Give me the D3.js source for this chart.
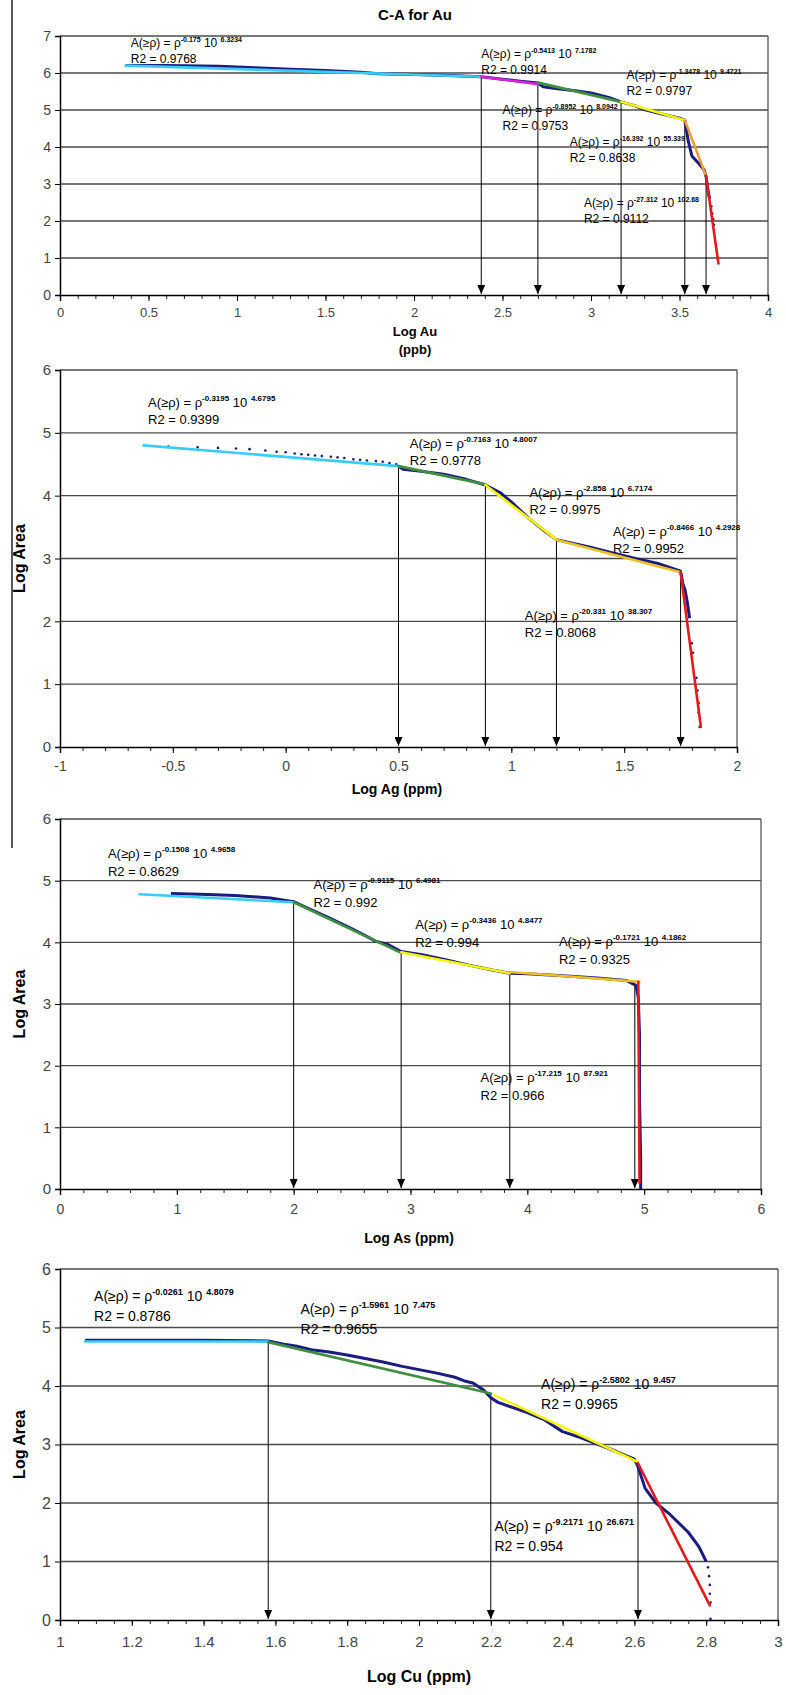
<!DOCTYPE html>
<html>
<head>
<meta charset="utf-8">
<script src="https://cdn.jsdelivr.net/npm/d3@7"></script>
<style>
  body { margin: 0; background: #fff; }
  text { font-family: "Liberation Sans", Arial, sans-serif; }
</style>
</head>
<body>
<svg id="chart" width="786" height="1695"></svg>
<script>
// ---- Au (ppb) ----
var auCurve = [[0.37,6.20],[0.6,6.20],[0.9,6.18],[1.1,6.14],[1.3,6.10],[1.5,6.07],[1.7,6.02],[1.8,5.98],
  [2.0,5.96],[2.2,5.93],[2.38,5.90],[2.5,5.83],[2.6,5.78],[2.7,5.73],[2.73,5.63],[2.8,5.58],[2.9,5.53],
  [3.0,5.46],[3.1,5.34],[3.17,5.22],[3.25,5.11],[3.3,5.01],[3.4,4.89],[3.5,4.78],[3.53,4.72],[3.55,4.15],
  [3.57,3.76],[3.6,3.6],[3.64,3.38],[3.65,3.2],[3.66,2.85],[3.67,2.6]];
var auDots = [[3.68,2.4],[3.685,2.2],[3.69,2.05],[3.695,1.9]];
var auFits = [[0.37,6.20,2.38,5.90],[2.38,5.90,2.70,5.70],[2.70,5.74,3.17,5.22],[3.17,5.22,3.53,4.72],
  [3.53,4.72,3.65,3.22],[3.65,3.22,3.72,0.85]];
var auFitColors = ["#38cdf5","#e020e0","#3f8f3f","#f5f500","#f09a30","#e41a1a"];
var auCuts = [[2.38,5.90],[2.70,5.72],[3.17,5.22],[3.53,4.72],[3.65,3.22]];
var auEq = [["-0.175","6.3234","0.9768"],["-0.5413","7.1782","0.9914"],["-0.8952","8.0942","0.9753"],
  ["-1.3478","9.4721","0.9797"],["-16.392","55.339","0.8638"],["-27.312","102.68","0.9112"]];
var auEqAt = [[0.40,6.70],[2.38,6.41],[2.50,4.89],[3.20,5.84],[2.88,4.03],[2.96,2.38]];
var auXTicks = [0,0.5,1,1.5,2,2.5,3,3.5,4];
var auYTicks = [0,1,2,3,4,5,6,7];

// ---- Ag (ppm) ----
var agCurve = [[0.5,4.47],[0.52,4.42],[0.6,4.39],[0.7,4.34],[0.8,4.26],[0.885,4.17],[0.95,4.05],[1.0,3.9],
  [1.08,3.63],[1.15,3.43],[1.2,3.3],[1.25,3.26],[1.35,3.18],[1.45,3.09],[1.55,3.0],[1.65,2.92],[1.75,2.8],
  [1.76,2.6],[1.77,2.5],[1.78,2.3],[1.79,2.05]];
var agDots = [[-0.52,4.78],[-0.39,4.77],[-0.30,4.76],[-0.22,4.75],[-0.16,4.74],[-0.09,4.72],[-0.04,4.70],
  [0.0,4.69],[0.04,4.67],[0.07,4.66],[0.10,4.65],[0.13,4.64],[0.16,4.63],[0.20,4.62],[0.23,4.61],
  [0.26,4.60],[0.30,4.58],[0.33,4.57],[0.36,4.56],[0.40,4.55],[0.43,4.54],[0.46,4.52],[0.49,4.50],
  [1.80,1.65],[1.805,1.5],[1.82,1.1],[1.825,0.9],[1.83,0.7],[1.83,0.55],[1.835,0.32]];
var agFits = [[-0.63,4.80,0.5,4.47],[0.5,4.47,0.885,4.18],[0.885,4.17,1.2,3.3],[1.2,3.3,1.75,2.78],
  [1.75,2.78,1.84,0.32]];
var agFitColors = ["#38cdf5","#3f8f3f","#f5f500","#f0c020","#e41a1a"];
var agCuts = [[0.5,4.47],[0.885,4.17],[1.2,3.3],[1.75,2.78]];
var agEq = [["-0.3195","4.6795","0.9399"],["-0.7163","4.8007","0.9778"],["-2.858","6.7174","0.9975"],
  ["-0.8466","4.2928","0.9952"],["-20.331","38.307","0.8068"]];
var agEqAt = [[-0.61,5.41],[0.55,4.76],[1.08,3.98],[1.45,3.36],[1.06,2.02]];
var agXTicks = [-1,-0.5,0,0.5,1,1.5,2];
var agYTicks = [0,1,2,3,4,5,6];

// ---- As (ppm) ----
var asCurve = [[0.95,4.79],[1.2,4.78],[1.5,4.76],[1.8,4.72],[2.0,4.66],[2.1,4.57],[2.3,4.40],[2.5,4.22],
  [2.6,4.12],[2.7,4.02],[2.8,3.97],[2.92,3.85],[3.1,3.80],[3.3,3.72],[3.5,3.63],[3.7,3.55],[3.85,3.50],
  [4.0,3.49],[4.3,3.46],[4.6,3.42],[4.85,3.38],[4.93,3.30],[4.95,3.10],[4.96,2.5],[4.96,1.5],
  [4.97,0.5],[4.97,0.0]];
var asDots = [];
var asFits = [[0.68,4.78,2.0,4.65],[2.0,4.65,2.92,3.83],[2.92,3.84,3.85,3.50],[3.85,3.52,4.96,3.36],
  [4.95,3.36,4.96,0.10]];
var asFitColors = ["#38cdf5","#3f8f3f","#f5f500","#f0c020","#e41a1a"];
var asCuts = [[2.0,4.64],[2.92,3.84],[3.85,3.50],[4.92,3.35]];
var asEq = [["-0.1508","4.9658","0.8629"],["-0.9115","6.4981","0.992"],["-0.3436","4.8477","0.994"],
  ["-0.1721","4.1862","0.9325"],["-17.215","87.921","0.966"]];
var asEqAt = [[0.41,5.36],[2.17,4.86],[3.04,4.21],[4.27,3.94],[3.60,1.73]];
var asXTicks = [0,1,2,3,4,5,6];
var asYTicks = [0,1,2,3,4,5,6];

// ---- Cu (ppm) ----
var cuCurve = [[1.07,4.78],[1.2,4.78],[1.4,4.78],[1.58,4.77],[1.62,4.72],[1.66,4.68],[1.7,4.62],[1.75,4.58],
  [1.8,4.53],[1.85,4.47],[1.9,4.41],[1.95,4.34],[2.0,4.28],[2.05,4.22],[2.1,4.15],[2.13,4.08],[2.15,4.05],
  [2.18,3.93],[2.2,3.80],[2.22,3.72],[2.3,3.55],[2.35,3.42],[2.4,3.22],[2.45,3.12],[2.5,3.0],[2.55,2.88],
  [2.6,2.75],[2.61,2.62],[2.63,2.25],[2.66,2.0],[2.7,1.8],[2.75,1.5],[2.78,1.25],[2.8,1.0]];
var cuDots = [[2.805,0.9],[2.808,0.75],[2.81,0.6],[2.81,0.45],[2.812,0.3],[2.812,0.02]];
var cuFits = [[1.07,4.76,1.58,4.76],[1.58,4.75,2.2,3.87],[2.21,3.84,2.61,2.70],[2.61,2.68,2.81,0.25]];
var cuFitColors = ["#38cdf5","#3f8f3f","#f5f500","#e41a1a"];
var cuCuts = [[1.58,4.76],[2.2,3.86],[2.61,2.68]];
var cuEq = [["-0.0261","4.8079","0.8786"],["-1.5961","7.475","0.9655"],["-2.5802","9.457","0.9965"],
  ["-9.2171","26.671","0.954"]];
var cuEqAt = [[1.095,5.45],[1.67,5.23],[2.34,3.95],[2.21,1.52]];
var cuXTicks = [1,1.2,1.4,1.6,1.8,2,2.2,2.4,2.6,2.8,3];
var cuYTicks = [0,1,2,3,4,5,6];

var panels = [
  { curve: auCurve, dots: auDots, fits: auFits, colors: auFitColors, cuts: auCuts, eq: auEq, eqAt: auEqAt,
    xTicks: auXTicks, yTicks: auYTicks, minorStep: 0.1, box: { l: 60, r: 768, t: 36, b: 295 },
    xTitle: ["Log Au", "(ppb)"], xTitleY: 336, xTitleX: 415, titleSize: 13, yTitle: false,
    eqSize: 12, lineGap: 16, pad: 7 },
  { curve: agCurve, dots: agDots, fits: agFits, colors: agFitColors, cuts: agCuts, eq: agEq, eqAt: agEqAt,
    xTicks: agXTicks, yTicks: agYTicks, minorStep: 0.1, box: { l: 60, r: 737, t: 370, b: 747 },
    xTitle: ["Log Ag (ppm)"], xTitleY: 794, xTitleX: 397, titleSize: 14, yTitle: true,
    eqSize: 13, lineGap: 17, pad: 8 },
  { curve: asCurve, dots: asDots, fits: asFits, colors: asFitColors, cuts: asCuts, eq: asEq, eqAt: asEqAt,
    xTicks: asXTicks, yTicks: asYTicks, minorStep: 0.2, box: { l: 60, r: 761, t: 819, b: 1189 },
    xTitle: ["Log As (ppm)"], xTitleY: 1243, xTitleX: 409, titleSize: 14, yTitle: true,
    eqSize: 13, lineGap: 18, pad: 9 },
  { curve: cuCurve, dots: cuDots, fits: cuFits, colors: cuFitColors, cuts: cuCuts, eq: cuEq, eqAt: cuEqAt,
    xTicks: cuXTicks, yTicks: cuYTicks, minorStep: 0.05, box: { l: 60, r: 778, t: 1269, b: 1620 },
    xTitle: ["Log Cu (ppm)"], xTitleY: 1682, xTitleX: 419, titleSize: 16, yTitle: true,
    eqSize: 14, lineGap: 20, pad: 10 }
];

var svg = d3.select("#chart");
svg.append("rect").attr("width", 786).attr("height", 1695).attr("fill", "#fff");

// arrowhead drawn along +x, so orient auto turns it to point down the line
svg.append("defs").append("marker")
  .attr("id", "arrow").attr("markerUnits", "userSpaceOnUse")
  .attr("markerWidth", 10).attr("markerHeight", 8)
  .attr("refX", 9).attr("refY", 4).attr("orient", "auto")
  .attr("viewBox", "0 0 10 8")
  .append("path").attr("d", "M0,0L9,4L0,8Z").attr("fill", "#000");

// chart title
svg.append("text").attr("x", 415).attr("y", 20).attr("text-anchor", "middle")
  .style("font-size", "15px").style("font-weight", "bold").text("C-A for Au");

// thin rule at the far left
svg.append("line").attr("x1", 12).attr("x2", 12).attr("y1", 0).attr("y2", 848)
  .attr("stroke", "#222").attr("stroke-width", 1.5);

var fmt = function(d) { return String(+d.toFixed(2)); };

panels.forEach(function(p) {
  var b = p.box;
  var x = d3.scaleLinear().domain([p.xTicks[0], p.xTicks[p.xTicks.length - 1]]).range([b.l, b.r]);
  var y = d3.scaleLinear().domain([0, p.yTicks[p.yTicks.length - 1]]).range([b.b, b.t]);
  var g = svg.append("g");

  // horizontal grid
  g.selectAll("line.grid").data(p.yTicks.slice(1)).enter().append("line")
    .attr("x1", b.l).attr("x2", b.r).attr("y1", function(d) { return y(d); }).attr("y2", function(d) { return y(d); })
    .attr("stroke", "#4a4a4a").attr("stroke-width", 1.3);
  // right frame
  g.append("line").attr("x1", b.r).attr("x2", b.r).attr("y1", b.t).attr("y2", b.b)
    .attr("stroke", "#555").attr("stroke-width", 1.3);

  // minor ticks
  var x0 = x.domain()[0], x1 = x.domain()[1];
  var minors = d3.range(Math.round((x1 - x0) / p.minorStep) + 1).map(function(i) { return x0 + i * p.minorStep; });
  g.append("g").attr("transform", "translate(0," + b.b + ")")
    .call(d3.axisBottom(x).tickValues(minors).tickSize(4).tickFormat(""))
    .call(function(a) { a.select(".domain").remove(); a.selectAll("line").attr("stroke", "#222"); });

  // x axis
  var xa = g.append("g").attr("transform", "translate(0," + b.b + ")")
    .call(d3.axisBottom(x).tickValues(p.xTicks).tickSize(6).tickPadding(p.pad).tickFormat(fmt));
  xa.select(".domain").attr("stroke", "#000").attr("stroke-width", 1.5);
  xa.selectAll("line").attr("stroke", "#000");
  xa.selectAll("text").style("font-size", (p.eqSize + 1) + "px").attr("fill", "#444")
    .style("font-family", "'Liberation Sans', Arial, sans-serif");

  // y axis
  var ya = g.append("g").attr("transform", "translate(" + b.l + ",0)")
    .call(d3.axisLeft(y).tickValues(p.yTicks).tickSize(5).tickPadding(4).tickFormat(fmt));
  ya.select(".domain").attr("stroke", "#000").attr("stroke-width", 1.5);
  ya.selectAll("line").attr("stroke", "#000");
  ya.selectAll("text").style("font-size", (p.eqSize + 2) + "px").attr("fill", "#444")
    .style("font-family", "'Liberation Sans', Arial, sans-serif");

  // axis titles
  p.xTitle.forEach(function(t, i) {
    g.append("text").attr("x", p.xTitleX).attr("y", p.xTitleY + i * 18).attr("text-anchor", "middle")
      .style("font-size", p.titleSize + "px").style("font-weight", "bold").text(t);
  });
  if (p.yTitle) {
    g.append("text").attr("transform", "translate(25," + ((b.t + b.b) / 2) + ") rotate(-90)")
      .attr("text-anchor", "middle").style("font-size", "16px").style("font-weight", "bold").text("Log Area");
  }

  // cutoff arrows
  g.selectAll("line.cut").data(p.cuts).enter().append("line")
    .attr("x1", function(d) { return x(d[0]); }).attr("x2", function(d) { return x(d[0]); })
    .attr("y1", function(d) { return y(d[1]); }).attr("y2", y(0) - 1)
    .attr("stroke", "#000").attr("stroke-width", 1).attr("marker-end", "url(#arrow)");

  // data curve
  var line = d3.line().x(function(d) { return x(d[0]); }).y(function(d) { return y(d[1]); });
  g.append("path").datum(p.curve).attr("d", line).attr("fill", "none")
    .attr("stroke", "#1c1c80").attr("stroke-width", 3).attr("stroke-linejoin", "round");
  g.selectAll("circle").data(p.dots).enter().append("circle")
    .attr("cx", function(d) { return x(d[0]); }).attr("cy", function(d) { return y(d[1]); })
    .attr("r", 1.3).attr("fill", "#1c1c80");

  // fitted segments
  g.selectAll("line.fit").data(p.fits).enter().append("line")
    .attr("x1", function(d) { return x(d[0]); }).attr("y1", function(d) { return y(d[1]); })
    .attr("x2", function(d) { return x(d[2]); }).attr("y2", function(d) { return y(d[3]); })
    .attr("stroke", function(d, i) { return p.colors[i]; }).attr("stroke-width", 2.6)
    .attr("stroke-linecap", "round");

  // equations
  p.eq.forEach(function(e, i) {
    var px = x(p.eqAt[i][0]), py = y(p.eqAt[i][1]);
    var sup = Math.round(p.eqSize * 0.62);
    var rise = Math.round(p.eqSize * 0.45);
    var t = g.append("text").attr("x", px).attr("y", py).style("font-size", p.eqSize + "px");
    t.append("tspan").text("A(\u2265\u03c1) = \u03c1");
    t.append("tspan").attr("dy", -rise).style("font-size", sup + "px").style("font-weight", "bold").text(e[0]);
    t.append("tspan").attr("dy", rise).text(" 10 ");
    t.append("tspan").attr("dy", -rise).style("font-size", sup + "px").style("font-weight", "bold").text(e[1]);
    g.append("text").attr("x", px).attr("y", py + p.lineGap).style("font-size", p.eqSize + "px")
      .text("R2 = " + e[2]);
  });
});
</script>
</body>
</html>
